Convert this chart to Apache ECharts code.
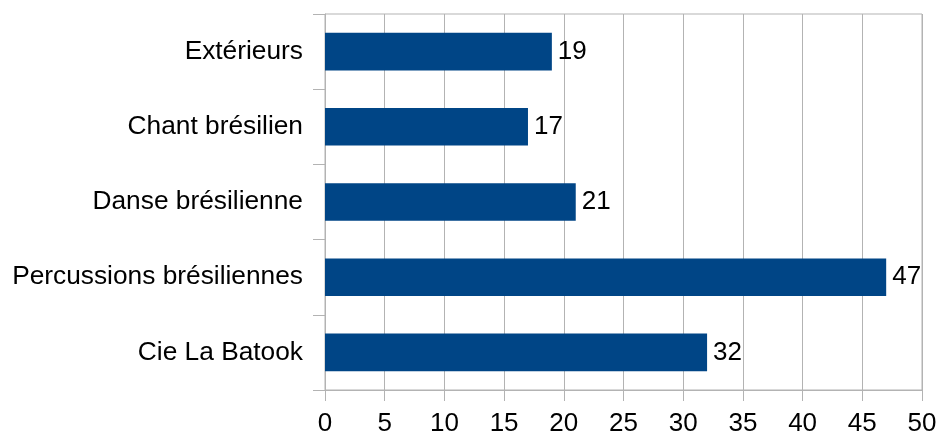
<!DOCTYPE html>
<html>
<head>
<meta charset="utf-8">
<script src="https://cdn.jsdelivr.net/npm/echarts@6/dist/echarts.min.js"></script>
<style>
  html, body { margin: 0; padding: 0; background: #fff; }
  #chart { width: 940px; height: 437px; }
</style>
</head>
<body>
<div id="chart"></div>
<script>
// categories listed bottom to top, as the category axis draws them
const categories = ["Cie La Batook", "Percussions brésiliennes", "Danse brésilienne", "Chant brésilien", "Extérieurs"];
const values = [32, 47, 21, 17, 19];
const xTicks = [0, 5, 10, 15, 20, 25, 30, 35, 40, 45, 50];

const gridGray = "#b3b3b3";
const font = "'Liberation Sans', Arial, sans-serif";

const chart = echarts.init(document.getElementById("chart"));
chart.setOption({
  animation: false,
  grid: {
    left: 325,
    right: 18,
    top: 14,
    bottom: 45,
    show: true,
    borderColor: gridGray,
    borderWidth: 1,
  },
  xAxis: {
    type: "value",
    min: xTicks[0],
    max: xTicks[xTicks.length - 1],
    interval: 5,
    axisLine: { show: true, lineStyle: { color: gridGray } },
    axisTick: { show: true, length: 11, lineStyle: { color: gridGray } },
    splitLine: { show: true, lineStyle: { color: gridGray } },
    axisLabel: { color: "#000", fontSize: 26, fontFamily: font, margin: 21 },
  },
  yAxis: {
    type: "category",
    data: categories,
    axisLine: { show: true, lineStyle: { color: gridGray } },
    axisTick: { show: true, length: 12, lineStyle: { color: gridGray } },
    splitLine: { show: false },
    axisLabel: { color: "#000", fontSize: 26.3, fontFamily: font, margin: 22 },
  },
  series: [
    {
      type: "bar",
      data: values,
      barWidth: "50%",
      itemStyle: { color: "#004586" },
      label: {
        show: true,
        position: "right",
        distance: 6,
        color: "#000",
        fontSize: 26,
        fontFamily: font,
      },
    },
  ],
});
</script>
</body>
</html>
